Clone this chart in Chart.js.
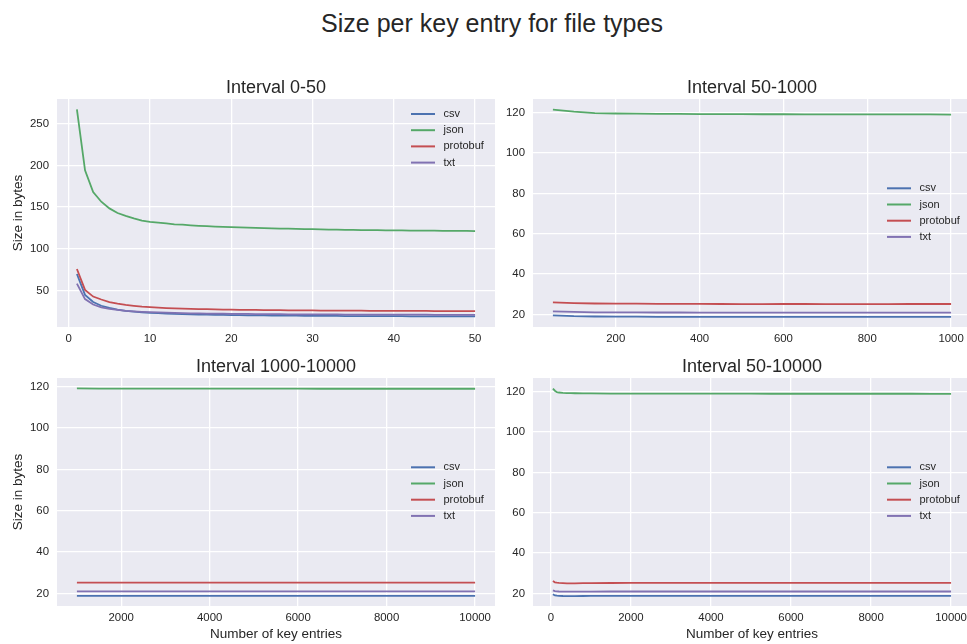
<!DOCTYPE html>
<html>
<head>
<meta charset="utf-8">
<script src="https://cdn.jsdelivr.net/npm/chart.js@4"></script>
<style>
  html, body { margin:0; padding:0; background:#fff; width:967px; height:644px; overflow:hidden; }
  canvas { position:absolute; }
  #mainTitle { position:absolute; left:0; top:10.5px; width:984px; text-align:center;
    font: 25px "Liberation Sans", Arial, sans-serif; line-height:25px; color:#262626; }
</style>
</head>
<body>
<div id="mainTitle">Size per key entry for file types</div>
<canvas id="c1" width="497" height="367" style="left:0px;top:0px;width:497px;height:367px"></canvas>
<canvas id="c2" width="497" height="367" style="left:476px;top:0px;width:497px;height:367px"></canvas>
<canvas id="c3" width="497" height="308" style="left:0px;top:338px;width:497px;height:308px"></canvas>
<canvas id="c4" width="497" height="308" style="left:476px;top:338px;width:497px;height:308px"></canvas>
<script>
// ---------- DATA ----------
const seriesNames = ['csv', 'json', 'protobuf', 'txt'];
const seriesColors = ['#4C72B0', '#55A868', '#C44E52', '#8172B2'];

// Interval 0-50
const x1 = [1,2,3,4,5,6,7,8,9,10,11,12,13,14,15,16,17,18,19,20,21,22,23,24,25,26,27,28,29,30,31,32,33,34,35,36,37,38,39,40,41,42,43,44,45,46,47,48,49,50];
const csv1 = [70,45,36.5,32,29.5,27.5,26,25,24.2,23.6,23.1,22.7,22.3,22,21.7,21.5,21.3,21.1,21,20.8,20.7,20.6,20.5,20.4,20.3,20.2,20.1,20.1,20,19.9,19.9,19.8,19.8,19.7,19.7,19.6,19.6,19.6,19.5,19.5,19.5,19.4,19.4,19.4,19.3,19.3,19.3,19.3,19.2,19.2];
const json1 = [267,194,168,156.5,148.5,143,139.5,136.5,134,132.5,131.5,130.5,129.5,129,128.3,127.7,127.2,126.8,126.4,126.2,125.8,125.5,125.2,124.9,124.6,124.4,124.2,124,123.8,123.6,123.4,123.2,123,122.9,122.7,122.6,122.5,122.4,122.3,122.2,122.1,122,121.9,121.8,121.8,121.7,121.6,121.6,121.5,121.4];
const protobuf1 = [76,51,43,39.5,36.5,34.5,33,32,31,30.3,29.8,29.3,28.9,28.6,28.3,28.1,27.9,27.7,27.5,27.4,27.2,27.1,27,26.9,26.8,26.7,26.6,26.5,26.5,26.4,26.3,26.3,26.2,26.2,26.1,26.1,26,26,26,25.9,25.9,25.8,25.8,25.8,25.7,25.7,25.7,25.7,25.6,25.6];
const txt1 = [58.5,40,33.5,30,28.2,27,26,25.3,24.8,24.4,24,23.7,23.4,23.2,23,22.9,22.7,22.6,22.5,22.4,22.3,22.2,22.1,22,22,21.9,21.8,21.8,21.7,21.7,21.6,21.6,21.6,21.5,21.5,21.5,21.4,21.4,21.4,21.4,21.3,21.3,21.3,21.3,21.2,21.2,21.2,21.2,21.2,21.1];
const x1Ticks = [0,10,20,30,40,50];
const y1Ticks = [50,100,150,200,250];
const x1Range = [-1.45, 52.45];
const y1Range = [6.6, 279.4];

// Interval 50-1000
const x2 = [50,100,150,200,250,300,350,400,450,500,550,600,650,700,750,800,850,900,950,1000];
const csv2 = [19.5,19.1,18.95,18.9,18.85,18.8,18.8,18.8,18.75,18.75,18.75,18.8,18.8,18.8,18.8,18.8,18.8,18.8,18.8,18.8];
const json2 = [121.5,120.5,119.8,119.6,119.5,119.45,119.4,119.35,119.3,119.3,119.25,119.25,119.2,119.2,119.2,119.2,119.15,119.15,119.15,119.1];
const protobuf2 = [26,25.6,25.4,25.35,25.3,25.25,25.2,25.2,25.15,25.1,25.1,25.15,25.15,25.1,25.1,25.1,25.1,25.15,25.15,25.15];
const txt2 = [21.5,21.2,21.05,21,21,20.95,20.95,20.9,20.9,20.9,20.9,20.9,20.9,20.9,20.9,20.9,20.9,20.9,20.9,20.9];
const x2Ticks = [200,400,600,800,1000];
const y2Ticks = [20,40,60,80,100,120];
const x2Range = [2.5, 1047.5];
const y2Range = [13.75, 126.8];

// Interval 1000-10000
const x3 = [1000,1500,2000,2500,3000,3500,4000,4500,5000,5500,6000,6500,7000,7500,8000,8500,9000,9500,10000];
const csv3 = [18.8,18.8,18.8,18.8,18.8,18.8,18.8,18.8,18.8,18.8,18.8,18.8,18.8,18.8,18.8,18.8,18.8,18.8,18.8];
const json3 = [119.15,119.1,119.1,119.1,119.1,119.05,119.05,119.05,119.05,119.05,119.05,119,119,119,119,119,119,119,119];
const protobuf3 = [25.2,25.2,25.2,25.2,25.2,25.2,25.2,25.2,25.2,25.25,25.25,25.25,25.25,25.25,25.25,25.25,25.25,25.25,25.25];
const txt3 = [20.95,20.95,20.95,20.95,20.95,20.95,20.95,20.95,20.95,20.95,20.95,20.95,20.95,20.95,20.95,20.95,20.95,20.95,20.95];
const x3Ticks = [2000,4000,6000,8000,10000];
const y3Ticks = [20,40,60,80,100,120];
const x3Range = [550, 10450];
const y3Range = [13.9, 124.2];

// Interval 50-10000
const x4 = [50,100,150,200,300,400,500,600,800,1000,1500,2000,2500,3000,3500,4000,4500,5000,5500,6000,6500,7000,7500,8000,8500,9000,9500,10000];
const csv4 = [19.6,19.0,18.85,18.8,18.7,18.65,18.6,18.65,18.7,18.75,18.8,18.8,18.8,18.8,18.8,18.8,18.8,18.8,18.8,18.8,18.8,18.8,18.8,18.8,18.8,18.8,18.8,18.8];
const json4 = [121.5,120.5,119.8,119.6,119.45,119.35,119.3,119.25,119.2,119.15,119.1,119.1,119.1,119.05,119.05,119.05,119.05,119.05,119,119,119,119,119,119,119,119,118.95,118.95];
const protobuf4 = [26.1,25.5,25.3,25.2,25.1,25.0,25.0,25.0,25.05,25.1,25.15,25.2,25.2,25.2,25.2,25.2,25.2,25.2,25.2,25.2,25.2,25.2,25.2,25.2,25.2,25.2,25.2,25.2];
const txt4 = [21.5,21.1,21.0,20.95,20.9,20.85,20.85,20.85,20.9,20.9,20.95,20.95,20.95,20.95,20.95,20.95,20.95,20.95,20.95,20.95,20.95,20.95,20.95,20.95,20.95,20.95,20.95,20.95];
const x4Ticks = [0,2000,4000,6000,8000,10000];
const y4Ticks = [20,40,60,80,100,120];
const x4Range = [-447.5, 10497.5];
const y4Range = [13.75, 126.8];

const panelTitles = ['Interval 0-50', 'Interval 50-1000', 'Interval 1000-10000', 'Interval 50-10000'];
const yAxisLabel = 'Size in bytes';
const xAxisLabel = 'Number of key entries';

// ---------- STYLE ----------
const FONT = '"Liberation Sans", Arial, sans-serif';
const TEXT = '#262626';
const BG = '#EAEAF2';
Chart.defaults.font.family = FONT;
Chart.defaults.color = TEXT;

const bgPlugin = {
  id: 'plotBg',
  beforeDraw(chart) {
    const {ctx, chartArea: a} = chart;
    ctx.save();
    ctx.fillStyle = BG;
    ctx.fillRect(a.left, a.top, a.right - a.left, a.bottom - a.top);
    ctx.restore();
  }
};

const decoPlugin = {
  id: 'deco',
  afterDraw(chart, args, opts) {
    const {ctx, chartArea: a} = chart;
    ctx.save();
    ctx.fillStyle = TEXT;
    ctx.font = '18px ' + FONT;
    ctx.textAlign = 'center';
    ctx.textBaseline = 'alphabetic';
    ctx.fillText(opts.title, (a.left + a.right) / 2, a.top - 6);
    ctx.font = '11px ' + FONT;
    ctx.textAlign = 'left';
    ctx.textBaseline = 'middle';
    chart.data.datasets.forEach((ds, i) => {
      const y = a.top + opts.legendTop + i * 16.2;
      ctx.strokeStyle = ds.borderColor;
      ctx.lineWidth = 2;
      ctx.beginPath();
      ctx.moveTo(a.right - 84, y);
      ctx.lineTo(a.right - 60, y);
      ctx.stroke();
      ctx.fillStyle = TEXT;
      ctx.fillText(ds.label, a.right - 51.5, y);
    });
    ctx.restore();
  }
};

function makeChart(id, xs, series, xTicks, yTicks, xRange, yRange, title, opt) {
  const datasets = series.map((vals, i) => ({
    label: seriesNames[i],
    data: xs.map((x, k) => ({x: x, y: vals[k]})),
    borderColor: seriesColors[i],
    backgroundColor: seriesColors[i],
    borderWidth: 1.8,
    pointRadius: 0,
    tension: 0,
    fill: false,
    order: series.length - i
  }));
  return new Chart(document.getElementById(id), {
    type: 'line',
    data: {datasets},
    options: {
      responsive: false,
      animation: false,
      devicePixelRatio: 1,
      layout: {padding: {top: opt.padTop, left: 0, right: 2, bottom: 0}},
      plugins: {
        legend: {display: false},
        tooltip: {enabled: false},
        title: {display: false},
        deco: {title: title, legendTop: opt.legendTop}
      },
      scales: {
        x: {
          type: 'linear',
          min: xRange[0], max: xRange[1],
          afterFit: s => { s.height = 40; },
          afterBuildTicks: s => { s.ticks = xTicks.map(v => ({value: v})); },
          grid: {color: '#ffffff', lineWidth: 1.3, drawTicks: false},
          border: {display: false},
          ticks: {padding: 5, autoSkip: false, maxRotation: 0, color: TEXT, font: {size: 11.4},
                  callback: v => String(v)},
          title: {display: opt.xTitle, text: xAxisLabel, color: TEXT, font: {size: 13.5},
                  padding: {top: 0, bottom: 4}}
        },
        y: {
          type: 'linear',
          min: yRange[0], max: yRange[1],
          afterFit: s => { s.width = 57; },
          afterBuildTicks: s => { s.ticks = yTicks.map(v => ({value: v})); },
          grid: {color: '#ffffff', lineWidth: 1.3, drawTicks: false},
          border: {display: false},
          ticks: {padding: 8, autoSkip: false, color: TEXT, font: {size: 11.4},
                  callback: v => String(v)},
          title: {display: opt.yTitle, text: yAxisLabel, color: TEXT, font: {size: 13.5},
                  padding: {top: 10, bottom: 0}}
        }
      }
    },
    plugins: [bgPlugin, decoPlugin]
  });
}

makeChart('c1', x1, [csv1, json1, protobuf1, txt1], x1Ticks, y1Ticks, x1Range, y1Range, panelTitles[0],
  {padTop: 99, legendTop: 15, xTitle: false, yTitle: true});
makeChart('c2', x2, [csv2, json2, protobuf2, txt2], x2Ticks, y2Ticks, x2Range, y2Range, panelTitles[1],
  {padTop: 99, legendTop: 89.3, xTitle: false, yTitle: false});
makeChart('c3', x3, [csv3, json3, protobuf3, txt3], x3Ticks, y3Ticks, x3Range, y3Range, panelTitles[2],
  {padTop: 40, legendTop: 89.3, xTitle: true, yTitle: true});
makeChart('c4', x4, [csv4, json4, protobuf4, txt4], x4Ticks, y4Ticks, x4Range, y4Range, panelTitles[3],
  {padTop: 40, legendTop: 89.3, xTitle: true, yTitle: false});
</script>
</body>
</html>
